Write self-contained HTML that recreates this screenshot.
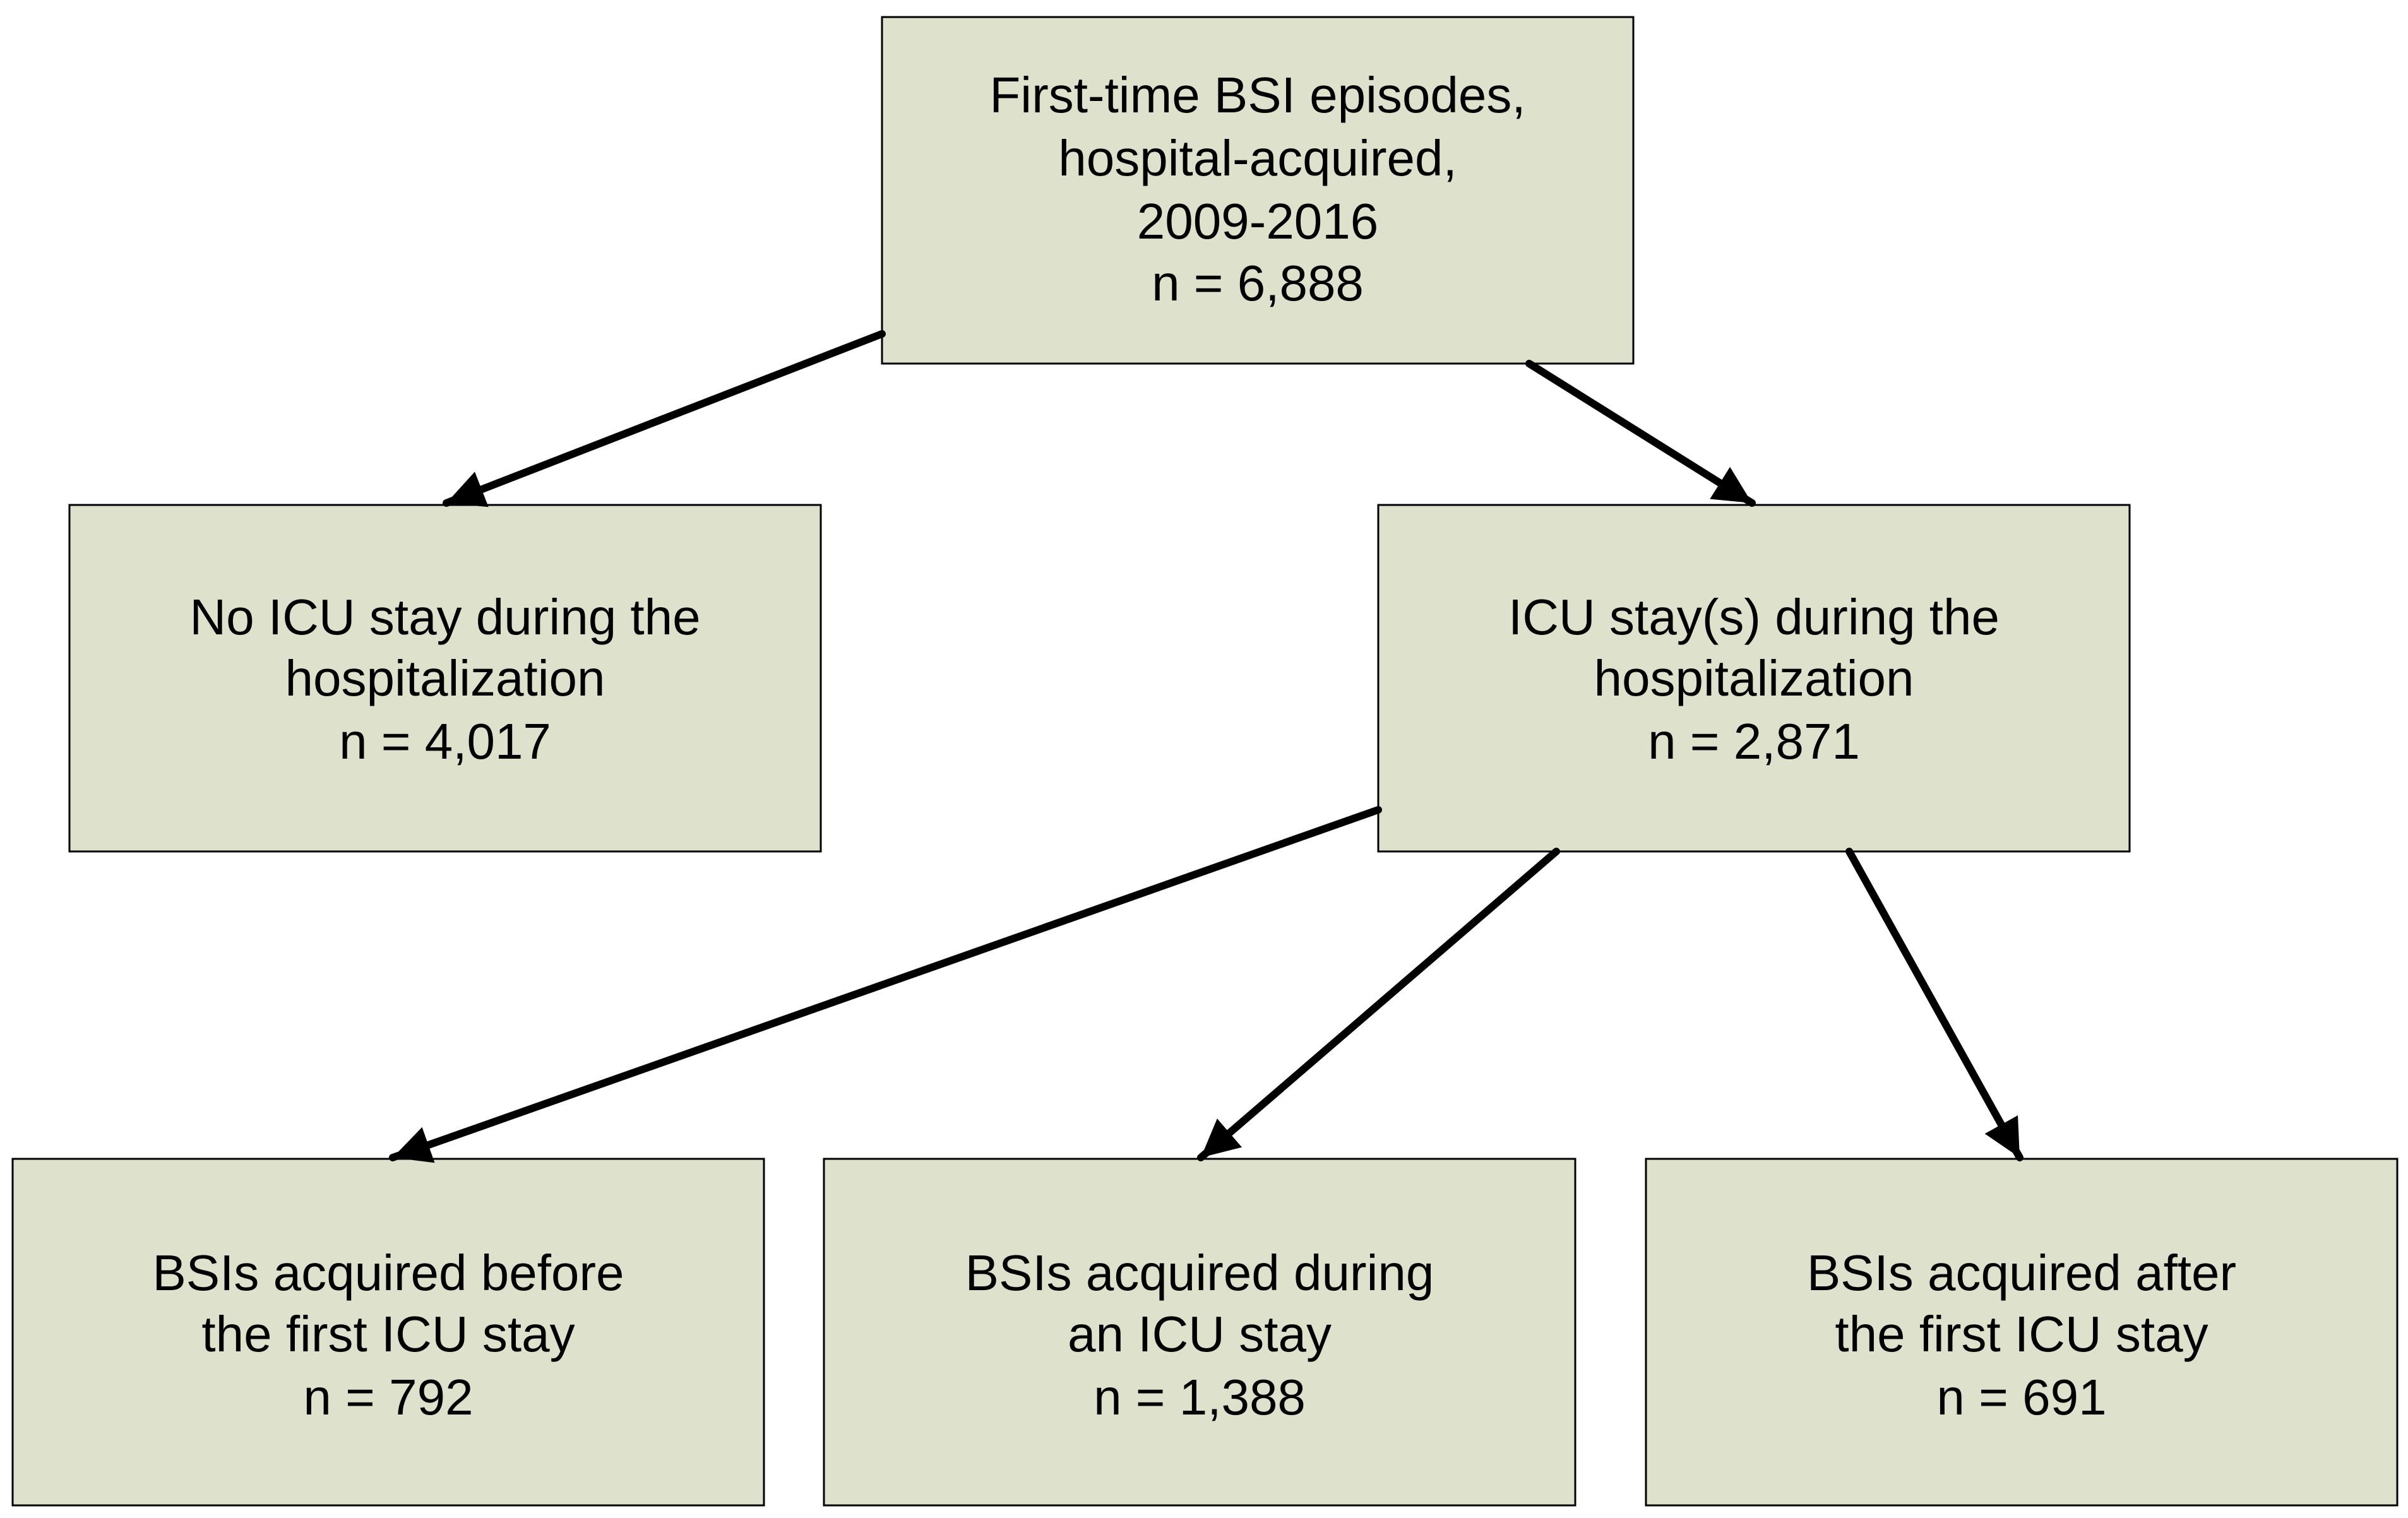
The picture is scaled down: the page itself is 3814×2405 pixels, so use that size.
<!DOCTYPE html>
<html><head><meta charset="utf-8"><style>
html,body{margin:0;padding:0;background:#fff;}
svg{display:block}
text{font-family:"Liberation Sans",sans-serif;font-size:80px;fill:#000;text-anchor:middle}
</style></head><body>
<svg width="3814" height="2405" viewBox="0 0 3814 2405" xmlns="http://www.w3.org/2000/svg">
<defs>
<marker id="ah" markerUnits="userSpaceOnUse" markerWidth="70" markerHeight="60" refX="60" refY="30" orient="auto">
<path d="M0,0 L60,30 L0,60 Z" fill="#000"/>
</marker>
</defs>
<g fill="#dee1cb" stroke="#000" stroke-width="3">
<rect x="1397" y="27" width="1190" height="549"/>
<rect x="110" y="800" width="1190" height="549"/>
<rect x="2183" y="800" width="1190" height="549"/>
<rect x="20" y="1836" width="1190" height="549"/>
<rect x="1305" y="1836" width="1190" height="549"/>
<rect x="2607" y="1836" width="1190" height="549"/>
</g>
<g stroke="#000" stroke-width="12" stroke-linecap="round" marker-end="url(#ah)">
<line x1="1397" y1="529" x2="707" y2="797"/>
<line x1="2422" y1="576" x2="2775" y2="797"/>
<line x1="2183" y1="1283" x2="622" y2="1834"/>
<line x1="2465" y1="1349" x2="1902" y2="1834"/>
<line x1="2929" y1="1349" x2="3199" y2="1834"/>
</g>
<text x="1992" y="178">First-time BSI episodes,</text>
<text x="1992" y="278">hospital-acquired,</text>
<text x="1992" y="378">2009-2016</text>
<text x="1992" y="476">n = 6,888</text>
<text x="705" y="1005">No ICU stay during the</text>
<text x="705" y="1102">hospitalization</text>
<text x="705" y="1202">n = 4,017</text>
<text x="2778" y="1005">ICU stay(s) during the</text>
<text x="2778" y="1102">hospitalization</text>
<text x="2778" y="1202">n = 2,871</text>
<text x="615" y="2044">BSIs acquired before</text>
<text x="615" y="2141">the first ICU stay</text>
<text x="615" y="2241">n = 792</text>
<text x="1900" y="2044">BSIs acquired during</text>
<text x="1900" y="2141">an ICU stay</text>
<text x="1900" y="2241">n = 1,388</text>
<text x="3202" y="2044">BSIs acquired after</text>
<text x="3202" y="2141">the first ICU stay</text>
<text x="3202" y="2241">n = 691</text>
</svg>
</body></html>
